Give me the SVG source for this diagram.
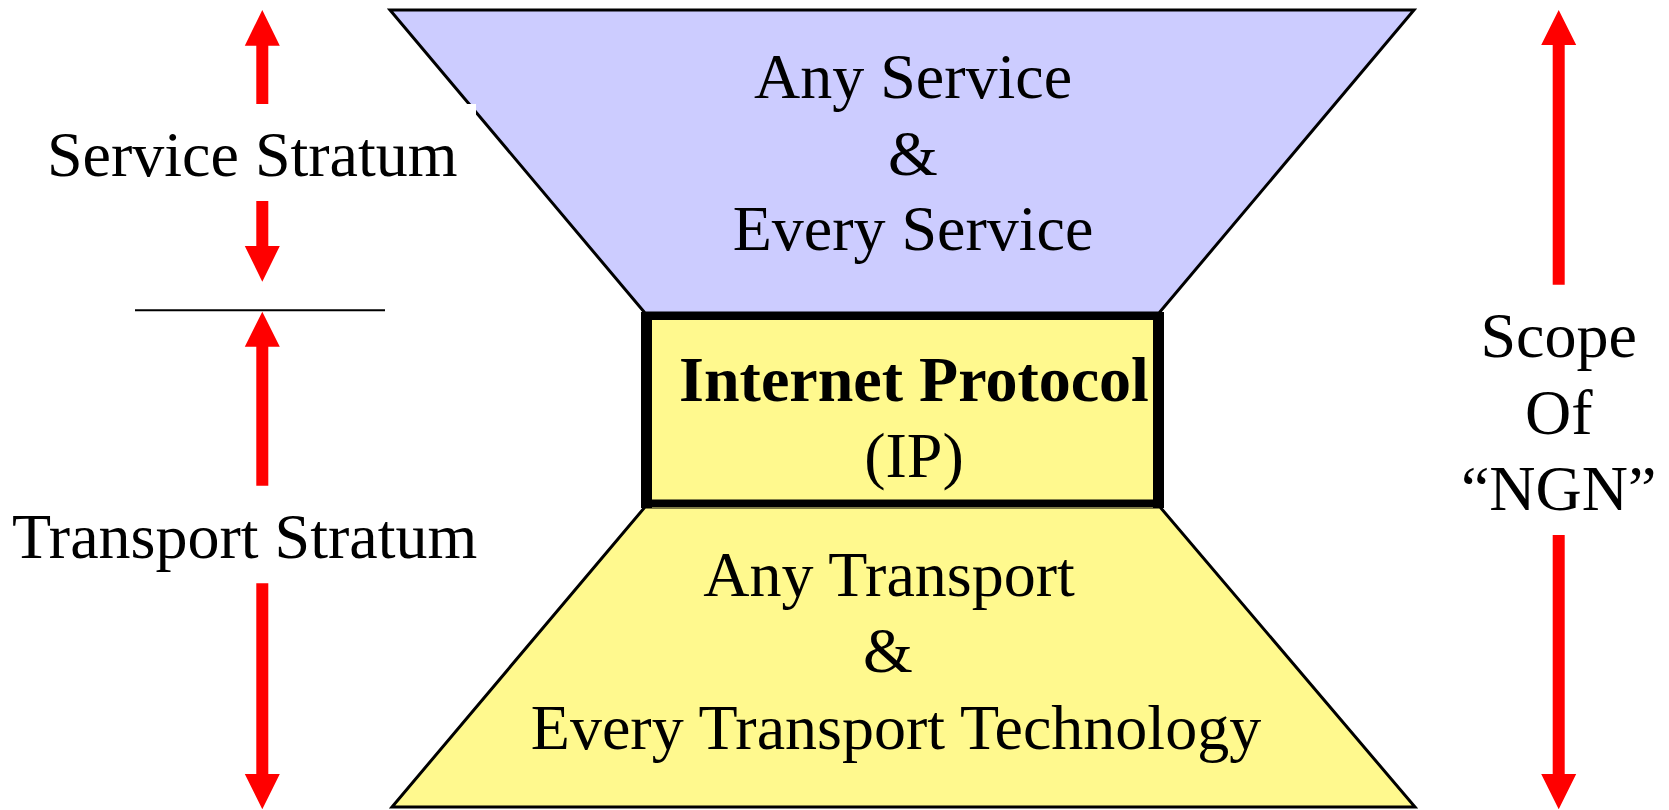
<svg xmlns="http://www.w3.org/2000/svg" width="1669" height="810" viewBox="0 0 1669 810">
<style>
  .t { font-family: "Liberation Serif", "Times New Roman", serif; font-size: 64px; fill: #000; }
  .b { font-weight: bold; }
  .m { text-anchor: middle; }
  .arr { fill: #FF0000; }
  .trap { stroke: #000; stroke-width: 3; stroke-linejoin: miter; }
  .bd { fill: #000; }
</style>
<rect width="1669" height="810" fill="#FFFFFF"/>
<g id="service-layer">
  <polygon class="trap" fill="#CCCCFF" points="390,10 1414,10 1159,313 645,313"/>
</g>
<g id="transport-layer">
  <polygon class="trap" fill="#FFF98E" points="645,507 1160,507 1415,807 392,807"/>
</g>
<g id="ip-box">
  <rect x="641" y="312" width="523" height="196" fill="#FFF98E"/>
  <rect class="bd" x="641" y="312" width="11" height="196"/>
  <rect class="bd" x="1153" y="312" width="11" height="196"/>
  <rect class="bd" x="641" y="312" width="523" height="8"/>
  <rect class="bd" x="641" y="499.5" width="523" height="8"/>
  <text class="t b m" x="914" y="401">Internet Protocol</text>
  <text class="t m" x="914" y="477">(IP)</text>
</g>
<g id="service-text">
  <text class="t m" x="913" y="98">Any Service</text>
  <text class="t m" x="913" y="175">&amp;</text>
  <text class="t m" x="913" y="250">Every Service</text>
</g>
<g id="transport-text">
  <text class="t m" x="889" y="596">Any Transport</text>
  <text class="t m" x="888" y="672">&amp;</text>
  <text class="t m" x="896" y="749">Every Transport Technology</text>
</g>
<g id="connectors">
  <polygon class="arr" points="262.3,10 279.8,45.7 268.3,45.7 268.3,104 256.3,104 256.3,45.7 244.8,45.7"/>
  <polygon class="arr" points="256.3,201 268.3,201 268.3,246 279.8,246 262.3,281.7 244.8,246 256.3,246"/>
  <polygon class="arr" points="262.3,311.7 279.8,346.7 268.3,346.7 268.3,485.7 256.3,485.7 256.3,346.7 244.8,346.7"/>
  <polygon class="arr" points="256.3,583.3 268.3,583.3 268.3,774 279.8,774 262.3,809.3 244.8,774 256.3,774"/>
  <polygon class="arr" points="1558.7,10 1576.2,45 1564.7,45 1564.7,284.7 1552.7,284.7 1552.7,45 1541.2,45"/>
  <polygon class="arr" points="1552.7,535 1564.7,535 1564.7,774 1576.2,774 1558.7,809.3 1541.2,774 1552.7,774"/>
  <line x1="135" y1="310.3" x2="385" y2="310.3" stroke="#000" stroke-width="2"/>
</g>
<g id="service-stratum-label">
  <rect x="30" y="104" width="446" height="96" fill="#FFFFFF"/>
  <text class="t" x="47" y="175.7">Service Stratum</text>
</g>
<g id="transport-stratum-label">
  <text class="t" x="12" y="558.3">Transport Stratum</text>
</g>
<g id="scope-label">
  <text class="t m" x="1558.7" y="357">Scope</text>
  <text class="t m" x="1558.7" y="433.5">Of</text>
  <text class="t m" x="1558.7" y="510">“NGN”</text>
</g>
</svg>
